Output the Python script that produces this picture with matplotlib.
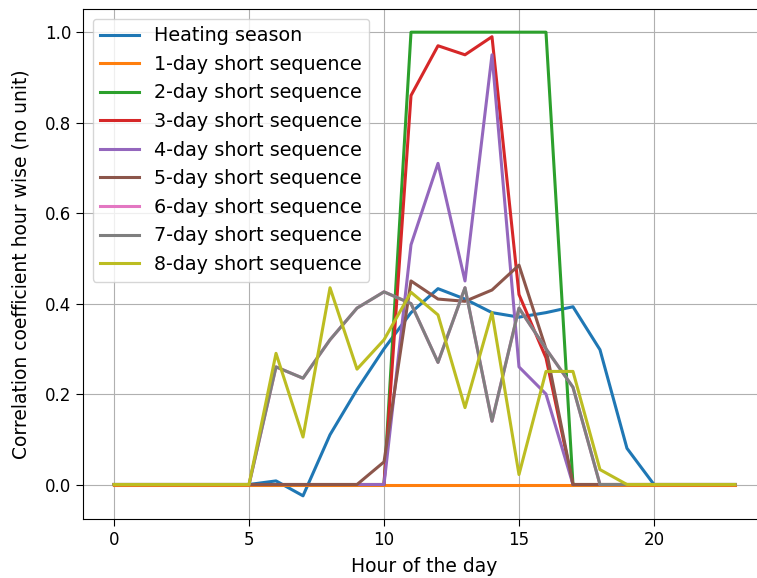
import matplotlib
matplotlib.use("Agg")
import matplotlib.pyplot as plt

hours = list(range(24))

heating = [0, 0, 0, 0, 0, 0, 0.008, -0.025, 0.11, 0.21, 0.30, 0.38,
           0.433, 0.41, 0.38, 0.37, 0.38, 0.393, 0.298, 0.08, 0, 0, 0, 0]
day1 = [0] * 24
day2 = [0, 0, 0, 0, 0, 0, 0, 0, 0, 0, 0, 1.0,
        1.0, 1.0, 1.0, 1.0, 1.0, 0, 0, 0, 0, 0, 0, 0]
day3 = [0, 0, 0, 0, 0, 0, 0, 0, 0, 0, 0, 0.86,
        0.97, 0.95, 0.99, 0.42, 0.28, 0, 0, 0, 0, 0, 0, 0]
day4 = [0, 0, 0, 0, 0, 0, 0, 0, 0, 0, 0, 0.53,
        0.71, 0.45, 0.95, 0.26, 0.20, 0, 0, 0, 0, 0, 0, 0]
day5 = [0, 0, 0, 0, 0, 0, 0, 0, 0, 0, 0.05, 0.45,
        0.41, 0.405, 0.43, 0.485, 0.30, 0, 0, 0, 0, 0, 0, 0]
day7 = [0, 0, 0, 0, 0, 0, 0.26, 0.235, 0.32, 0.39, 0.426, 0.40,
        0.27, 0.435, 0.14, 0.39, 0.30, 0.215, 0, 0, 0, 0, 0, 0]
day6 = list(day7)  # hidden under the 7-day line in the original
day8 = [0, 0, 0, 0, 0, 0, 0.29, 0.105, 0.435, 0.255, 0.32, 0.425,
        0.375, 0.17, 0.38, 0.022, 0.25, 0.25, 0.033, 0, 0, 0, 0, 0]

series = [heating, day1, day2, day3, day4, day5, day6, day7, day8]
labels = ["Heating season"] + ["%d-day short sequence" % i for i in range(1, 9)]

fig = plt.figure(figsize=(7.57, 5.78), dpi=100)
# axes run slightly past the right edge, like the cropped original
ax = fig.add_axes([83 / 757, 1 - 519 / 578, 683 / 757, 510 / 578])
for s, lab in zip(series, labels):
    ax.plot(hours, s, label=lab, linewidth=2.2)

ax.set_xlabel("Hour of the day", fontsize=13.5, labelpad=6)
ax.set_ylabel("Correlation coefficient hour wise (no unit)", fontsize=13.5, labelpad=10)
ax.tick_params(labelsize=12, length=5)
ax.grid(True)
ax.legend(fontsize=13.8, loc="upper left")
fig.savefig("out.png", dpi=100)
